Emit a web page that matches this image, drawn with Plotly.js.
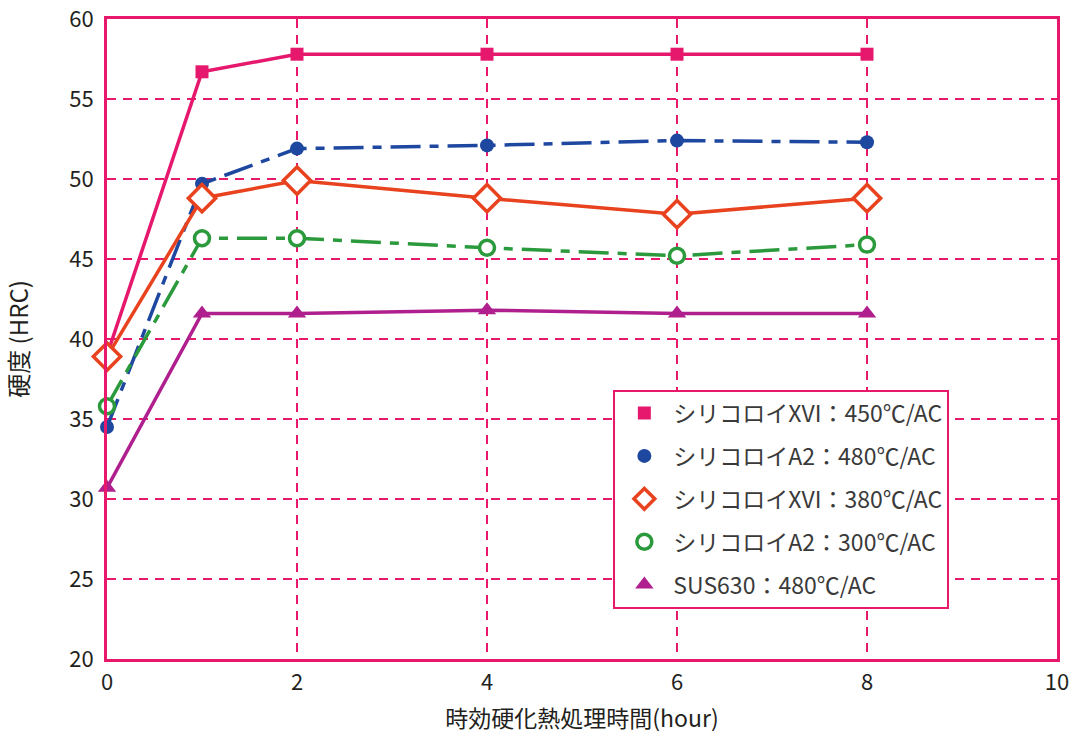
<!DOCTYPE html>
<html>
<head>
<meta charset="utf-8">
<script src="https://cdn.plot.ly/plotly-3.0.1.min.js"></script>
<style>
  body { margin: 0; background: #fff; }
  #chart { width: 1084px; height: 742px; }
</style>
</head>
<body>
<div id="chart"></div>
<script>
// aging time (hour)
var hours = [0, 1, 2, 4, 6, 8];

// hardness HRC
var xvi450 = [39.0, 56.7, 57.8, 57.8, 57.8, 57.8];
var a2_480 = [34.5, 49.7, 51.9, 52.1, 52.4, 52.3];
var xvi380 = [38.9, 48.8, 49.9, 48.8, 47.8, 48.8];
var a2_300 = [35.8, 46.3, 46.3, 45.7, 45.2, 45.9];
var sus630 = [30.7, 41.6, 41.6, 41.8, 41.6, 41.6];

var names = [
  "シリコロイXVI：450℃/AC",
  "シリコロイA2：480℃/AC",
  "シリコロイXVI：380℃/AC",
  "シリコロイA2：300℃/AC",
  "SUS630：480℃/AC"
];

var pink = "#e8196b";
var dashdot = "30px,9px,9px,9px";

var series = [
  { y: xvi450, color: "#e6186e", dash: "solid",
    marker: { symbol: "square", size: 13, color: "#e6186e" } },
  { y: a2_480, color: "#1e47a0", dash: dashdot,
    marker: { symbol: "circle", size: 14, color: "#1e47a0" } },
  { y: xvi380, color: "#e8421e", dash: "solid",
    marker: { symbol: "diamond", size: 21, color: "#ffffff", line: { width: 3.5, color: "#e8421e" } } },
  { y: a2_300, color: "#2a9a3c", dash: dashdot,
    marker: { symbol: "circle", size: 15, color: "#ffffff", line: { width: 3.5, color: "#2a9a3c" } } },
  { y: sus630, color: "#b01f8e", dash: "solid",
    marker: { symbol: "triangle-up", size: 16, color: "#b01f8e" } }
];

var data = [];
// lines first
series.forEach(function (s, i) {
  data.push({
    x: hours, y: s.y, type: "scatter", mode: "lines",
    line: { color: s.color, width: 3.5, dash: s.dash },
    showlegend: false, hoverinfo: "skip"
  });
});
// markers on top, these carry the legend
series.forEach(function (s, i) {
  data.push({
    x: hours, y: s.y, type: "scatter", mode: "markers",
    name: names[i], legendgroup: "g" + i,
    marker: s.marker, cliponaxis: false
  });
});

var tickFont = { family: "Noto Sans CJK JP, sans-serif", size: 22, color: "#231f20" };

var layout = {
  width: 1084,
  height: 742,
  margin: { l: 107, r: 27, t: 19, b: 83 },
  paper_bgcolor: "#fff",
  plot_bgcolor: "#fff",
  font: { family: "Noto Sans CJK JP, sans-serif", color: "#231f20" },
  xaxis: {
    range: [0, 10], tick0: 0, dtick: 2,
    showline: true, mirror: true, linecolor: pink, linewidth: 3,
    showgrid: true, gridcolor: pink, gridwidth: 1.5, griddash: "9px,7px",
    zeroline: false, ticks: "", tickfont: tickFont, ticklabelstandoff: 2,
    title: { text: "時効硬化熱処理時間(hour)", font: { size: 23 }, standoff: 16 }
  },
  yaxis: {
    range: [20, 60], tick0: 20, dtick: 5,
    showline: true, mirror: true, linecolor: pink, linewidth: 3,
    showgrid: true, gridcolor: pink, gridwidth: 1.5, griddash: "9px,7px",
    zeroline: false, ticks: "", tickfont: tickFont, ticklabelstandoff: 6,
    title: { text: "硬度 (HRC)", font: { size: 24 }, standoff: 34 }
  },
  legend: {
    x: 0.533, y: 0.421, xanchor: "left", yanchor: "top",
    bgcolor: "#fff", bordercolor: pink, borderwidth: 2,
    font: { size: 23, color: "#3a3a3a" },
    traceorder: "grouped", tracegroupgap: 10,
    itemwidth: 48
  }
};

Plotly.newPlot("chart", data, layout, { displayModeBar: false });
</script>
</body>
</html>
